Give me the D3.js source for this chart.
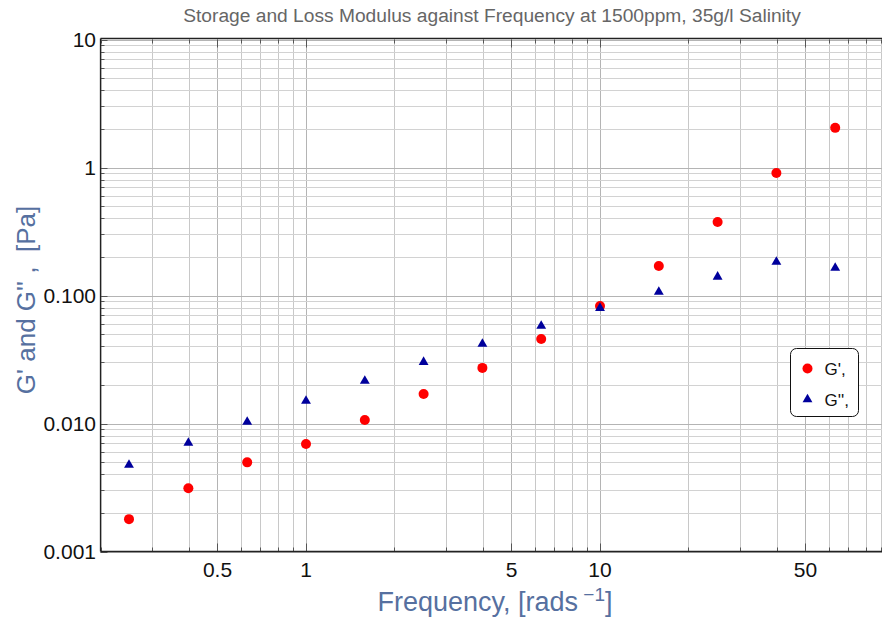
<!DOCTYPE html>
<html>
<head>
<meta charset="utf-8">
<script src="https://cdn.jsdelivr.net/npm/d3@7/dist/d3.min.js"></script>
<style>
  html, body { margin: 0; padding: 0; background: #fff; }
  svg { display: block; font-family: "Liberation Sans", Arial, sans-serif; }
</style>
</head>
<body>
<svg id="chart" width="882" height="622"></svg>
<script>
// Angular frequency [rad/s]
const frequency = [0.25, 0.398, 0.631, 1.0, 1.585, 2.512, 3.981, 6.31, 10.0, 15.85, 25.12, 39.81, 63.1];
// Storage modulus G' [Pa]
const storageModulus = [0.00179, 0.00312, 0.00497, 0.00692, 0.01065, 0.0170, 0.0272, 0.0457, 0.0828, 0.170, 0.375, 0.906, 2.04];
// Loss modulus G'' [Pa]
const lossModulus = [0.00474, 0.00704, 0.01028, 0.0150, 0.0215, 0.0302, 0.0418, 0.0578, 0.0798, 0.1065, 0.140, 0.183, 0.164];

const xTickValues = [0.5, 1, 5, 10, 50];
const xTickLabels = ["0.5", "1", "5", "10", "50"];
const yTickValues = [0.001, 0.01, 0.1, 1, 10];
const yTickLabels = ["0.001", "0.010", "0.100", "1", "10"];
const seriesNames = ["G',", "G'',"];

const svg = d3.select("#chart");
const plotLeft = 100.5, plotTop = 39.5, plotBottom = 551.5, plotRight = 882;

const x = d3.scaleLog().domain([0.2, 100]).range([plotLeft, plotLeft + Math.log10(500) * 294]);
const y = d3.scaleLog().domain([0.001, 10]).range([plotBottom, plotTop]);

// every 1..9 × 10^n inside a domain
function logSteps(lo, hi) {
  const out = [];
  for (let e = Math.floor(Math.log10(lo)); e <= Math.ceil(Math.log10(hi)); e++) {
    for (let k = 1; k <= 9; k++) {
      const v = k * Math.pow(10, e);
      if (v >= lo * 0.9999 && v <= hi * 1.0001) out.push(+v.toPrecision(6));
    }
  }
  return out;
}
const xGrid = logSteps(0.2, 100);
const yGrid = logSteps(0.001, 10);
const isMajorX = v => xTickValues.some(t => Math.abs(t - v) < 1e-9);
const isMajorY = v => yTickValues.some(t => Math.abs(t - v) / t < 1e-9);

// grid
const grid = svg.append("g");
grid.selectAll("line.gx").data(xGrid).join("line")
  .attr("x1", d => Math.round(x(d)) + 0.5).attr("x2", d => Math.round(x(d)) + 0.5)
  .attr("y1", plotTop).attr("y2", plotBottom)
  .attr("stroke", d => isMajorX(d) ? "#b4b4b4" : "#c8c8c8").attr("stroke-width", 1);
grid.selectAll("line.gy").data(yGrid).join("line")
  .attr("y1", d => Math.round(y(d)) + 0.5).attr("y2", d => Math.round(y(d)) + 0.5)
  .attr("x1", plotLeft).attr("x2", plotRight)
  .attr("stroke", d => isMajorY(d) ? "#b4b4b4" : "#d2d2d2").attr("stroke-width", 1);

// frame ticks
const ticks = svg.append("g").attr("stroke", "#555").attr("stroke-width", 1);
ticks.selectAll("line.tb").data(xGrid).join("line")
  .attr("x1", d => Math.round(x(d)) + 0.5).attr("x2", d => Math.round(x(d)) + 0.5)
  .attr("y1", plotBottom).attr("y2", d => plotBottom - (isMajorX(d) ? 8 : 4));
ticks.selectAll("line.tt").data(xGrid).join("line")
  .attr("x1", d => Math.round(x(d)) + 0.5).attr("x2", d => Math.round(x(d)) + 0.5)
  .attr("y1", plotTop).attr("y2", d => plotTop + (isMajorX(d) ? 8 : 4));
ticks.selectAll("line.tl").data(yGrid).join("line")
  .attr("y1", d => Math.round(y(d)) + 0.5).attr("y2", d => Math.round(y(d)) + 0.5)
  .attr("x1", plotLeft).attr("x2", d => plotLeft + (isMajorY(d) ? 7 : 4));

// frame lines
svg.append("line").attr("x1", plotLeft).attr("x2", plotRight).attr("y1", plotBottom).attr("y2", plotBottom)
  .attr("stroke", "#222").attr("stroke-width", 1.3);
svg.append("line").attr("x1", plotLeft).attr("x2", plotRight).attr("y1", plotTop - 1).attr("y2", plotTop - 1)
  .attr("stroke", "#222").attr("stroke-width", 1.3);
svg.append("line").attr("x1", plotLeft).attr("x2", plotLeft).attr("y1", plotTop - 1).attr("y2", plotBottom)
  .attr("stroke", "#222").attr("stroke-width", 1.3);

// tick labels
svg.append("g").selectAll("text").data(xTickValues).join("text")
  .attr("x", d => x(d)).attr("y", 577)
  .attr("text-anchor", "middle").attr("font-size", 21).attr("fill", "#111")
  .text((d, i) => xTickLabels[i]);
svg.append("g").selectAll("text").data(yTickValues).join("text")
  .attr("x", 96).attr("y", d => y(d) + 7.5)
  .attr("text-anchor", "end").attr("font-size", 21).attr("fill", "#111")
  .text((d, i) => yTickLabels[i]);

// title
svg.append("text").attr("x", 492).attr("y", 22).attr("text-anchor", "middle")
  .attr("font-size", 19.2).attr("fill", "#666")
  .text("Storage and Loss Modulus against Frequency at 1500ppm, 35g/l Salinity");

// axis labels
const labelColor = "#5670a0";
const xl = svg.append("text").attr("x", 495).attr("y", 611).attr("text-anchor", "middle")
  .attr("font-size", 27).attr("fill", labelColor);
xl.append("tspan").text("Frequency, [rads");
xl.append("tspan").attr("dy", -10).attr("font-size", 19).text(" \u22121");
xl.append("tspan").attr("dy", 10).text("]");

svg.append("text").attr("transform", "translate(35,300) rotate(-90)")
  .attr("text-anchor", "middle").attr("font-size", 26).attr("fill", labelColor)
  .style("white-space", "pre")
  .text("G' and G'' ,  [Pa]");

// markers
const tri = d3.symbol().type(d3.symbolTriangle).size(42);
const pts = svg.append("g");
pts.selectAll("circle").data(frequency).join("circle")
  .attr("cx", d => x(d)).attr("cy", (d, i) => y(storageModulus[i]))
  .attr("r", 5).attr("fill", "#ff0000");
pts.selectAll("path").data(frequency).join("path")
  .attr("d", tri)
  .attr("transform", (d, i) => `translate(${x(d)},${y(lossModulus[i])})`)
  .attr("fill", "#00009c");

// legend
const lg = svg.append("g").attr("transform", "translate(790.5,348.5)");
lg.append("rect").attr("width", 68).attr("height", 68).attr("rx", 6)
  .attr("fill", "#fff").attr("stroke", "#111").attr("stroke-width", 1);
lg.append("circle").attr("cx", 17).attr("cy", 20).attr("r", 5).attr("fill", "#ff0000");
lg.append("path").attr("d", tri).attr("transform", "translate(17,51)").attr("fill", "#00009c");
lg.selectAll("text").data(seriesNames).join("text")
  .attr("x", 34).attr("y", (d, i) => 26 + i * 31)
  .attr("font-size", 17).attr("fill", "#111").text(d => d);
</script>
</body>
</html>
